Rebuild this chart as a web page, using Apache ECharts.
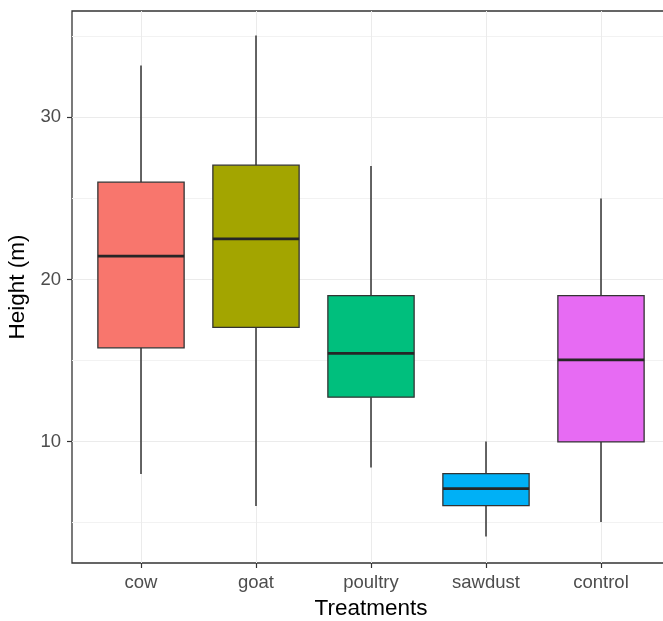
<!DOCTYPE html>
<html><head><meta charset="utf-8">
<script src="https://cdn.jsdelivr.net/npm/echarts@6/dist/echarts.min.js"></script>
<style>html,body{margin:0;padding:0;background:#fff}#c{width:663px;height:621px}</style>
</head><body><div id="c"></div>
<script>
const categories = ['cow', 'goat', 'poultry', 'sawdust', 'control'];
const whiskerLow  = [8.0, 6.03, 8.4, 4.15, 5.04];
const quartile1   = [15.78, 17.04, 12.74, 6.05, 9.98];
const medians     = [21.44, 22.5, 15.44, 7.1, 15.04];
const quartile3   = [26.0, 27.05, 19.0, 8.02, 19.0];
const whiskerHigh = [33.2, 35.05, 27.0, 10.0, 25.0];
const yMajorTicks = [10, 20, 30];
const yMinorTicks = [5, 15, 25, 35];
const xTickPositions = [1, 2, 3, 4, 5];

const fillColors = ['#F8766D', '#A3A500', '#00BF7D', '#00B0F6', '#E76BF3'];
const boxWidth = 0.75;
const FONT = '"Liberation Sans", Arial, sans-serif';

const boxData = categories.map((c, i) => [i + 1, whiskerLow[i], quartile1[i], medians[i], quartile3[i], whiskerHigh[i]]);

const chart = echarts.init(document.getElementById('c'));
chart.setOption({
  animation: false,
  backgroundColor: '#ffffff',
  grid: {
    left: 72, right: -7, top: 11, bottom: 58,
    show: true, borderColor: '#333333', borderWidth: 1.3, backgroundColor: 'transparent',
    outerBoundsMode: 'none', containLabel: false
  },
  xAxis: {
    type: 'value', min: 0.4, max: 5.6,
    name: 'Treatments', nameLocation: 'middle', nameGap: 34,
    nameTextStyle: { fontFamily: FONT, fontSize: 22.5, color: '#000000' },
    axisLine: { show: false },
    axisTick: { show: true, customValues: xTickPositions, length: 5, lineStyle: { color: '#333333', width: 1.2 } },
    axisLabel: {
      customValues: xTickPositions, margin: 10,
      fontFamily: FONT, fontSize: 18.5, color: '#4D4D4D',
      formatter: v => categories[Math.round(v) - 1] || ''
    },
    splitLine: { show: true, lineStyle: { color: '#EBEBEB', width: 1 } }
  },
  yAxis: [{
    type: 'value', min: 2.51, max: 36.56,
    name: 'Height (m)', nameLocation: 'middle', nameGap: 41,
    nameTextStyle: { fontFamily: FONT, fontSize: 22.5, color: '#000000' },
    axisLine: { show: false },
    axisTick: { show: true, customValues: yMajorTicks, length: 5, lineStyle: { color: '#333333', width: 1.2 } },
    axisLabel: { customValues: yMajorTicks, margin: 11, fontFamily: FONT, fontSize: 18.5, color: '#4D4D4D' },
    splitLine: { show: true, lineStyle: { color: '#EBEBEB', width: 1 } }
  }, {
    type: 'value', min: 2.51, max: 36.56, position: 'left',
    axisLine: { show: false },
    axisTick: { show: false, customValues: yMinorTicks },
    axisLabel: { show: false, customValues: yMinorTicks },
    splitLine: { show: true, lineStyle: { color: '#F2F2F2', width: 1 } }
  }],
  series: [{
    type: 'custom',
    xAxisIndex: 0, yAxisIndex: 0,
    data: boxData,
    encode: { x: 0, y: [1, 2, 3, 4, 5] },
    renderItem: function (params, api) {
      const x = api.value(0);
      const lo = api.coord([x, api.value(1)]);
      const q1 = api.coord([x, api.value(2)]);
      const md = api.coord([x, api.value(3)]);
      const q3 = api.coord([x, api.value(4)]);
      const hi = api.coord([x, api.value(5)]);
      const w = api.size([boxWidth, 0])[0];
      const cx = lo[0];
      return {
        type: 'group',
        children: [
          { type: 'line', shape: { x1: cx, y1: hi[1], x2: cx, y2: q3[1] }, style: { stroke: '#333333', lineWidth: 1.5 } },
          { type: 'line', shape: { x1: cx, y1: q1[1], x2: cx, y2: lo[1] }, style: { stroke: '#333333', lineWidth: 1.5 } },
          { type: 'rect', shape: { x: cx - w / 2, y: q3[1], width: w, height: q1[1] - q3[1] },
            style: { fill: fillColors[params.dataIndex], stroke: '#333333', lineWidth: 1.3 } },
          { type: 'line', shape: { x1: cx - w / 2, y1: md[1], x2: cx + w / 2, y2: md[1] },
            style: { stroke: '#262626', lineWidth: 2.8 } }
        ]
      };
    }
  }]
});
</script>
</body></html>
